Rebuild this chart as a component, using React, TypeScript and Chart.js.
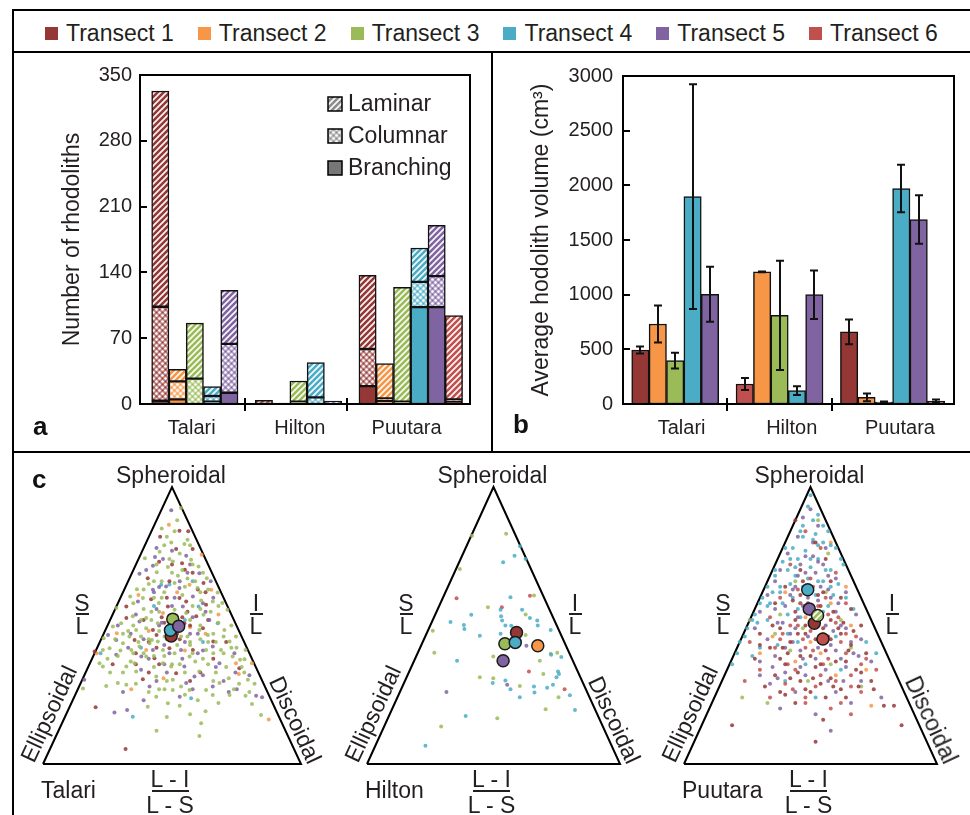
import React, { useEffect, useRef } from 'react';
import { Chart, registerables } from 'chart.js';

Chart.register(...registerables);

const FONT = "'Liberation Sans', Arial, Helvetica, sans-serif";
const INK = '#231f20';
Chart.defaults.font.family = FONT;
Chart.defaults.color = INK;

// ---------------- shared ----------------
const TRANSECTS = ['Transect 1', 'Transect 2', 'Transect 3', 'Transect 4', 'Transect 5', 'Transect 6'];
const TRANSECT_COLORS = ['#953735', '#F79646', '#9BBB59', '#4BACC6', '#8064A2', '#C0504D'];
const SITES = ['Talari', 'Hilton', 'Puutara'];

// ---------------- panel a : number of rhodoliths ----------------
const A_SLOTS = [0, 1, 2, 3, 4, 6, 7, 8, 9, 10, 12, 13, 14, 15, 16, 17];
const A_TRANSECT = [1, 2, 3, 4, 5, 6, 2, 3, 4, 5, 1, 2, 3, 4, 5, 6];
const A_BRANCHING = [3.5, 5, null, 2.5, 12, null, null, 2.5, null, null, 19, 3, 2.5, 103, 103, 2];
const A_COLUMNAR = [100, 19, 27, 6, 52, null, null, null, 7, null, 39.5, 3, null, 27, 33, 3];
const A_LAMINAR = [229.5, 13, 59, 10, 57, 4, 1, 22, 37, 3, 78.5, 37, 121.5, 36, 54, 89];
const A_GROUP_POS = [1.82, 8.08, 14.26];
const A_SEPARATORS = [4.9, 10.8];
const A_X_RANGE = [-1.175, 17.93];
const A_Y_MAX = 350;
const A_Y_STEP = 70;
const MORPHOTYPES = ['Laminar', 'Columnar', 'Branching'];

// ---------------- panel b : average volume ----------------
const B_SLOTS = [0, 1, 2, 3, 4, 6, 7, 8, 9, 10, 12, 13, 14, 15, 16, 17];
const B_TRANSECT = [1, 2, 3, 4, 5, 6, 2, 3, 4, 5, 1, 2, 3, 4, 5, 6];
const B_MEAN = [494, 732, 397, 1897, 1004, 183, 1208, 811, 122, 1000, 659, 61, 18, 1971, 1687, 27];
const B_ERR = [33, 170, 72, 1028, 252, 55, 4, 499, 40, 222, 113, 35, 5, 218, 222, 15];
const B_GROUP_POS = [2.37, 8.7, 14.92];
const B_SEPARATORS = [5, 11];
const B_X_RANGE = [-1, 18.03];
const B_Y_MAX = 3000;
const B_Y_STEP = 500;

// ---------------- panel c : ternary shape plots (x %, y % of triangle) ----------------
type Pt = [number, number];
const TRIANGLE: Pt[] = [[0, 0], [100, 0], [50, 100], [0, 0]];

const TALARI_T1: Pt[] = [[52.9,84.2],[56.3,84],[45.4,82],[51.6,77.6],[58,77.6],[53.9,72.5],[40.6,67.1],[55,70.1],[62.2,65.3],[32.3,56.9],[41.9,59.5],[52.9,59.9],[55.5,58.7],[63.2,57.5],[59.4,53.3],[66,44.2],[51.6,32.8],[43.2,38.2],[20.4,20.5],[32,5.4],[20,40.6],[35.5,44.8],[49,41.8],[58.1,41.2],[76.1,34.6],[32.3,52.7],[42.6,48.4],[48.4,56.9],[54.8,50.8],[44,46.6],[38.7,30.6],[46,53],[50,49],[56,55],[60,63],[44,42],[53,45],[39,52],[62,49],[49,66],[58,69],[45,73],[36,40],[66,38],[71,44],[27,36],[41,33],[57,30],[48,60],[64,52],[52,47],[47,51],[54,53],[41,44],[57,50],[45,36],[61,33],[36,36],[50,72],[63,62]];
const TALARI_T2: Pt[] = [[48.8,86.4],[61.5,75.5],[56.8,64.7],[65.2,62.9],[57,49.4],[75.9,32.5],[34.2,27],[87.5,16.1],[20.8,40],[40,41.2],[74.8,36.4],[28.6,47.2],[46.5,54.5],[46.7,31],[81,36.4],[52,62],[41,48],[63,47],[55,41],[37,61],[68,54]];
const TALARI_T3: Pt[] = [[53.5,92.4],[49.7,80],[54.8,79.4],[45.2,76.6],[39.5,74.3],[50.3,73.1],[57.4,73.7],[48.4,71.1],[60.3,71.3],[44.1,69.2],[52.3,68],[63.5,67.1],[51,65.3],[59.9,63.5],[67.7,61.9],[36.4,63.1],[33.8,60.5],[28.4,56.3],[38.7,59.9],[44.9,58.1],[61.3,59],[65.8,58.7],[69.5,58.1],[71.5,55.7],[70.3,48.4],[62.2,53.9],[60.6,48.4],[63.9,46.6],[74.8,46],[73.5,38.8],[76.4,37.6],[79.4,30.4],[81,21.7],[84.5,17.7],[78.5,24.6],[72.3,24.9],[68.4,29.2],[60.6,10.1],[61.3,14.7],[56.8,26.7],[53.5,28],[50.3,30.4],[60.6,33.4],[49.7,35.2],[46.5,36.4],[40,38.8],[35.5,36.4],[32.3,28.6],[29,29.2],[24.5,28.2],[40.6,20.7],[43.9,24.3],[47.1,27],[21.9,36.4],[23.2,41.2],[25.8,41.8],[31,43.6],[33.5,46],[37.4,42.4],[41.3,43.6],[44.5,44.2],[46.5,41.2],[51,40],[56.8,38.8],[63.2,41.2],[69,41.2],[78.1,37.8],[27.1,49.6],[30.3,50.8],[34.8,53.3],[40,52.7],[44.5,50.8],[51,55.7],[55.5,54.5],[53.5,46],[47.1,46],[42.2,44.8],[36.1,48.4],[34.2,41.2],[23.5,45.4],[15.5,27.3],[23.2,35.2],[32.3,35.2],[36.1,33.4],[43.9,31.6],[50.3,26.7],[48.4,21.9],[63.2,26.7],[65.8,24.9],[72.3,44.2],[78.5,41.2],[47,62],[43,60],[54,61],[58,57],[49,53],[45,55],[39,56],[35,50],[31,47],[57,52],[65,55],[68,51],[61,45],[57,43],[52,43],[47,39],[43,35],[39,40],[55,33],[59,37],[64,36],[67,33],[71,35],[75,42],[66,47],[29,39],[26,33],[38,46],[42,52],[50,69],[46,66],[56,67],[61,62],[41,65],[35,58],[62,69],[58,72],[53,76],[47,79],[44,72],[52,88],[51,84],[48,82],[56,81],[30,41],[34,37],[41,26],[53,21],[57,18],[68,22],[74,27],[78,33],[82,29],[70,40],[61,50],[64,44],[45,48],[52,50],[48,45],[56,46],[40,49],[37,44],[43,39],[50,36],[58,40],[62,38],[66,40],[70,46],[73,50],[68,57],[64,63],[59,66],[55,64],[46,60],[42,55],[38,52],[33,48],[28,45],[25,38],[31,33],[36,29],[45,27],[55,25],[60,23],[66,30],[72,31],[76,29],[80,26],[63,19],[48,17],[44,12],[57,44],[53,36],[48,30],[41,45],[35,40],[54,70],[49,74],[57,79],[46,85],[43,66],[39,63],[61,56],[67,44],[73,42],[77,35]];
const TALARI_T4: Pt[] = [[45.8,64.7],[49,64.8],[60.3,56.9],[67.7,50.8],[34.8,17.1],[22.3,40],[57.4,23.7],[55,52],[43,57],[62,44],[38,42],[58,66]];
const TALARI_T5: Pt[] = [[49.7,91.6],[43.4,74.7],[46.5,74],[55.5,75.2],[42.6,71.6],[37.4,68.7],[60.6,68.9],[45,63.9],[47.7,64.1],[52.9,63.5],[42.6,62.9],[36.8,58.7],[58.1,60.5],[64.5,52],[68.4,36.4],[74.6,33],[82.6,24.6],[84.9,24.1],[75.1,27],[65.8,28],[55.5,29.2],[58.7,31.6],[54.8,35.2],[38.1,38.8],[27.7,18.6],[32.6,19.5],[41.3,28],[28.4,44.8],[42.6,41.2],[53.5,41.2],[65.8,42.4],[37.4,51.4],[54.2,56.9],[50.3,45.4],[25.2,46.6],[16,30.4],[28.4,39.4],[53,24.3],[74.2,40],[44,56],[51,60],[57,47],[62,58],[39,45],[47,43],[54,38],[60,40],[33,42],[46,51],[66,60],[40,70],[56,69],[50,77],[38,34],[70,30],[62,32],[48,33],[44,30],[80,32],[58,53],[36,54],[29,50],[50,57],[45,50],[55,44],[60,47],[63,55],[41,38],[47,36],[58,27],[34,47],[53,66],[57,72],[44,78],[67,35],[72,26],[39,23],[31,26],[62,41],[49,40],[43,62],[65,66]];
const TALARI_MEAN_T = [1, 3, 4, 5];
const TALARI_MEAN_XY: Pt[] = [[49.7,46.2],[50.3,52.3],[49.4,48.3],[52.6,49.7]];

const HILTON_T3: Pt[] = [[41.5,82.4],[55,83.1],[36.7,70.4],[66,60.8],[47.8,56.6],[62.7,54],[26,48.1],[62.7,46.6],[26.6,40.2],[49.9,38.8],[68.3,37.3],[72.6,39.8],[75.2,40.2],[69.7,32.5],[44.6,31.3],[49.9,31],[60.4,28.2],[75.7,24.1],[70.6,19.8],[51.5,16.5],[29.3,13.5]];
const HILTON_T4: Pt[] = [[60.5,78.6],[58.3,75.2],[62.7,74],[53.8,72.8],[56.7,60.2],[52.8,55.7],[61.3,55.7],[64.4,52.7],[67.3,51.8],[67.5,50],[41.2,53.9],[33,51.3],[38.3,50.2],[38.5,48.7],[44.6,46.3],[53,53.3],[53.4,51.8],[54.7,50],[57,49.9],[52.8,47],[60.7,46.3],[72.6,48.4],[35.6,37.3],[76.8,38.6],[72.8,39.4],[75.5,33.4],[75.9,32.5],[74.9,31.3],[49.7,29.2],[54.7,30.1],[56.7,27],[66,28],[66.2,25.8],[71.2,27.5],[73.5,28.6],[80.2,24.8],[60.4,24.1],[82.2,19.5],[39,17.3],[23.1,6.6]];
const HILTON_T5: Pt[] = [[63,42.7],[55.4,28.6],[31.4,26]];
const HILTON_T6: Pt[] = [[35.4,59.8],[64.4,60.7],[53.3,56.6],[64,33.4],[78.1,27]];
const HILTON_MEAN_T = [1, 3, 4, 2, 5];
const HILTON_MEAN_XY: Pt[] = [[59.1,47.5],[54.5,43.4],[58.6,43.9],[67.5,42.7],[53.8,37.3]];

const PUUTARA_T1: Pt[] = [[44,88],[52,80],[56,74],[46,70],[58,66],[40,64],[50,62],[62,60],[36,58],[54,57],[66,56],[44,55],[58,52],[48,50],[70,50],[38,49],[30,47],[62,47],[52,45],[42,44],[66,43],[34,42],[56,41],[72,40],[46,39],[28,38],[60,37],[40,36],[52,35],[68,34],[36,32],[58,31],[46,30],[74,30],[32,28],[62,27],[50,26],[44,22],[56,24],[64,24],[19,14],[52,8],[55,16],[86,14],[79,21],[83,21],[38,26],[47,66],[55,62],[43,59],[59,55],[51,53],[63,51],[45,47],[55,49],[35,50],[67,48],[41,40],[50,39],[58,45],[64,37],[30,43],[38,38],[54,29],[48,27],[70,33],[42,31],[49,58],[53,61],[46,61],[61,49],[57,46],[48,47],[44,52],[39,42],[65,41],[54,36],[45,33],[59,28],[51,31],[40,25],[69,28],[75,27]];
const PUUTARA_T2: Pt[] = [[58,80],[40,62],[58,58],[48,53],[66,50],[35,46],[54,40],[44,37],[72,34],[60,32],[30,40],[74,21],[50,44],[64,64]];
const PUUTARA_T3: Pt[] = [[53,88],[57,76],[44,66],[56,62],[50,57],[62,52],[38,54],[47,49],[55,47],[42,41],[66,42],[58,36],[36,47],[49,30],[23,24],[33,22],[70,28],[26,52]];
const PUUTARA_T4: Pt[] = [[50,97],[49,93],[55,86],[58,79],[62,74],[63,72],[46,84],[52,83],[43,78],[48,77],[39,73],[53,74],[58,70],[44,71],[36,68],[50,71],[61,65],[42,65],[55,66],[35,62],[47,64],[64,60],[31,60],[52,61],[39,58],[28,54],[57,57],[45,56],[25,49],[67,56],[33,52],[50,52],[22,44],[41,47],[60,46],[19,36],[21,40],[30,42],[48,36],[72,44],[40,30],[62,34],[52,24],[45,44],[76,40],[27,39],[30,58],[27,52],[24,46],[36,70],[40,78],[33,64],[57,84],[60,78],[53,90],[47,86],[51,81],[55,80],[45,74],[41,70],[49,67],[38,64],[56,70],[43,60],[33,57],[29,51],[59,61],[46,53],[37,43],[55,55],[51,88],[47,82],[53,79],[42,74],[50,74],[44,68],[38,62],[53,66],[34,58],[46,58],[41,54],[58,64]];
const PUUTARA_T5: Pt[] = [[50,92],[47,89],[53,86],[45,82],[51,80],[56,78],[41,76],[48,75],[55,72],[38,70],[45,68],[52,69],[60,67],[36,66],[43,63],[57,63],[64,62],[33,61],[49,60],[40,57],[53,59],[60,55],[68,54],[30,55],[45,53],[37,51],[56,50],[64,49],[28,49],[49,46],[42,47],[70,45],[33,45],[58,43],[46,41],[62,38],[36,39],[74,37],[52,38],[30,37],[40,33],[56,34],[64,35],[48,32],[70,30],[34,29],[44,26],[60,26],[78,24],[38,20],[52,18],[30,32],[66,22],[58,12],[51,75],[46,72],[57,68],[42,61],[54,64],[47,57],[61,58],[36,56],[52,50],[44,49],[59,48],[66,44],[40,42],[53,42],[35,35],[60,41],[69,39],[46,35],[48,69],[53,73],[44,64],[58,60],[50,54],[62,50],[39,51],[55,46],[47,38],[43,44],[67,40],[57,30],[37,31],[63,30]];
const PUUTARA_T6: Pt[] = [[48,84],[54,78],[42,72],[60,69],[50,67],[38,60],[56,60],[64,58],[46,58],[52,54],[34,53],[60,51],[42,50],[68,46],[50,48],[56,44],[38,45],[26,44],[64,40],[48,42],[44,34],[54,32],[66,32],[30,34],[70,36],[40,29],[52,28],[60,30],[76,34],[48,22],[70,26],[58,20],[34,24],[66,18],[24,30],[45,63],[53,57],[61,53],[39,47],[47,45],[57,38],[64,47],[51,41],[43,27],[66,28],[36,42],[72,38],[51,64],[57,54],[45,50],[41,36],[62,44],[55,36],[48,24],[62,22]];
const PUUTARA_MEAN_T = [4, 5, 1, 3, 6];
const PUUTARA_MEAN_XY: Pt[] = [[48.9,62.9],[49.5,56],[51.5,50.8],[52.8,53.6],[54.9,45.1]];

// ---------------- helpers ----------------
function rgba(hex: string, a: number) {
  const n = parseInt(hex.slice(1), 16);
  return `rgba(${(n >> 16) & 255},${(n >> 8) & 255},${n & 255},${a})`;
}
function lighten(hex: string, w: number) {
  const n = parseInt(hex.slice(1), 16);
  const c = [(n >> 16) & 255, (n >> 8) & 255, n & 255].map((v) => Math.round(v + (255 - v) * w));
  return `rgb(${c[0]},${c[1]},${c[2]})`;
}
function hatch(color: string): any {
  const c = document.createElement('canvas');
  c.width = 6; c.height = 6;
  const g = c.getContext('2d')!;
  g.fillStyle = color; g.fillRect(0, 0, 6, 6);
  g.strokeStyle = 'rgba(255,255,255,0.95)'; g.lineWidth = 1.7;
  g.beginPath();
  g.moveTo(-1, 7); g.lineTo(7, -1);
  g.moveTo(-1, 1); g.lineTo(1, -1);
  g.moveTo(5, 7); g.lineTo(7, 5);
  g.stroke();
  return g.createPattern(c, 'repeat');
}
function dots(color: string): any {
  const c = document.createElement('canvas');
  c.width = 6; c.height = 6;
  const g = c.getContext('2d')!;
  g.fillStyle = lighten(color, 0.35); g.fillRect(0, 0, 6, 6);
  g.fillStyle = '#ffffff';
  [[1.5, 1.5], [4.5, 4.5]].forEach(([x, y]) => { g.beginPath(); g.arc(x, y, 1.3, 0, Math.PI * 2); g.fill(); });
  g.fillStyle = color;
  [[4.5, 1.5], [1.5, 4.5]].forEach(([x, y]) => { g.beginPath(); g.arc(x, y, 0.8, 0, Math.PI * 2); g.fill(); });
  return g.createPattern(c, 'repeat');
}
const tColor = (t: number) => TRANSECT_COLORS[t - 1];

// frame, inward y ticks, group separators
const framePlugin = {
  id: 'frame',
  afterDraw(chart: any, _a: any, opts: any) {
    const { ctx, chartArea: a, scales } = chart;
    ctx.save();
    ctx.strokeStyle = '#000';
    ctx.lineWidth = 2;
    ctx.strokeRect(a.left, a.top, a.right - a.left, a.bottom - a.top);
    scales.y.ticks.forEach((t: any) => {
      const py = Math.round(scales.y.getPixelForValue(t.value));
      ctx.beginPath(); ctx.moveTo(a.left, py); ctx.lineTo(a.left + 7, py); ctx.stroke();
    });
    (opts.separators || []).forEach((v: number) => {
      const px = Math.round(scales.x.getPixelForValue(v));
      ctx.beginPath(); ctx.moveTo(px, a.bottom - 6); ctx.lineTo(px, a.bottom + 7); ctx.stroke();
    });
    ctx.restore();
  },
};

const shapeLegendPlugin = {
  id: 'shapeLegend',
  afterDraw(chart: any, _a: any, opts: any) {
    if (!opts || !opts.items) return;
    const { ctx, chartArea: a } = chart;
    ctx.save();
    opts.items.forEach((it: any, i: number) => {
      const y = a.top + 29 + i * 32;
      const x = a.right - 142;
      ctx.fillStyle = it.fill; ctx.fillRect(x, y - 7, 14, 14);
      ctx.strokeStyle = '#000'; ctx.lineWidth = 1.5; ctx.strokeRect(x, y - 7, 14, 14);
      ctx.fillStyle = INK; ctx.font = `23px ${FONT}`; ctx.textBaseline = 'middle'; ctx.textAlign = 'left';
      ctx.fillText(it.label, x + 20, y + 1);
    });
    ctx.restore();
  },
};

const errorBarPlugin = {
  id: 'errorBars',
  afterDatasetsDraw(chart: any, _a: any, opts: any) {
    if (!opts || !opts.errors) return;
    const { ctx, scales } = chart;
    const meta = chart.getDatasetMeta(0);
    ctx.save();
    ctx.strokeStyle = '#111'; ctx.lineWidth = 2;
    meta.data.forEach((bar: any, i: number) => {
      const m = opts.means[i], e = opts.errors[i];
      const top = scales.y.getPixelForValue(m + e);
      const bot = scales.y.getPixelForValue(Math.max(0, m - e));
      const x = Math.round(bar.x);
      ctx.beginPath();
      ctx.moveTo(x, top); ctx.lineTo(x, bot);
      ctx.moveTo(x - 4, top); ctx.lineTo(x + 4, top);
      ctx.moveTo(x - 4, bot); ctx.lineTo(x + 4, bot);
      ctx.stroke();
    });
    ctx.restore();
  },
};

function slotWidth(ctx: any) {
  const s = ctx.chart.scales.x;
  return Math.abs(s.getPixelForValue(1) - s.getPixelForValue(0));
}

function barScales(xRange: number[], groupPos: number[], yMax: number, yStep: number, yTitle: string, yWidth: number, labelPad: number, stacked: boolean) {
  return {
    x: {
      type: 'linear', min: xRange[0], max: xRange[1], stacked, offset: false, bounds: 'data', grace: 0,
      grid: { display: false, drawTicks: false, offset: false }, border: { display: false },
      afterBuildTicks: (s: any) => { s.ticks = groupPos.map((v) => ({ value: v })); },
      afterFit: (s: any) => { s.height = 47; },
      ticks: { callback: (_v: any, i: number) => SITES[i], font: { size: 20 }, color: INK, padding: 12, maxRotation: 0, minRotation: 0, autoSkip: false },
    },
    y: {
      type: 'linear', min: 0, max: yMax, stacked,
      grid: { display: false, drawTicks: false }, border: { display: false },
      afterFit: (s: any) => { s.width = yWidth; },
      ticks: { stepSize: yStep, font: { size: 20 }, color: INK, padding: labelPad, callback: (v: any) => String(v) },
      title: { display: true, text: yTitle, font: { size: 23 }, color: INK, padding: 0 },
    },
  };
}

function buildPanelA() {
  const pts = (vals: (number | null)[]) => A_SLOTS.map((x, i) => ({ x, y: vals[i] }));
  const base = { borderColor: '#111', borderWidth: 1.5, borderSkipped: false, barPercentage: 1, categoryPercentage: 1, barThickness: slotWidth };
  return {
    type: 'bar',
    data: {
      datasets: [
        { ...base, label: 'Branching', data: pts(A_BRANCHING), backgroundColor: A_TRANSECT.map((t) => tColor(t)) },
        { ...base, label: 'Columnar', data: pts(A_COLUMNAR), backgroundColor: A_TRANSECT.map((t) => dots(tColor(t))) },
        { ...base, label: 'Laminar', data: pts(A_LAMINAR), backgroundColor: A_TRANSECT.map((t) => hatch(tColor(t))) },
      ],
    },
    options: {
      responsive: false, maintainAspectRatio: false, animation: false, events: [],
      layout: { padding: { left: 45, top: 22, right: 21, bottom: 0 } },
      scales: barScales(A_X_RANGE, A_GROUP_POS, A_Y_MAX, A_Y_STEP, 'Number of rhodoliths', 81, 8, true),
      plugins: {
        legend: { display: false }, tooltip: { enabled: false },
        frame: { separators: A_SEPARATORS },
        shapeLegend: {
          items: [
            { label: MORPHOTYPES[0], fill: hatch('#8c8c8c') },
            { label: MORPHOTYPES[1], fill: dots('#8c8c8c') },
            { label: MORPHOTYPES[2], fill: '#777777' },
          ],
        },
      },
    },
    plugins: [framePlugin, shapeLegendPlugin],
  };
}

function buildPanelB() {
  return {
    type: 'bar',
    data: {
      datasets: [{
        label: 'Average volume',
        data: B_SLOTS.map((x, i) => ({ x, y: B_MEAN[i] })),
        backgroundColor: B_TRANSECT.map((t) => tColor(t)),
        borderColor: '#111', borderWidth: 1.5, borderSkipped: false, barPercentage: 1, categoryPercentage: 1, barThickness: slotWidth,
      }],
    },
    options: {
      responsive: false, maintainAspectRatio: false, animation: false, events: [],
      layout: { padding: { left: 35, top: 23, right: 16, bottom: 0 } },
      scales: barScales(B_X_RANGE, B_GROUP_POS, B_Y_MAX, B_Y_STEP, 'Average hodolith volume (cm³)', 95, 10, false),
      plugins: {
        legend: { display: false }, tooltip: { enabled: false },
        frame: { separators: B_SEPARATORS },
        errorBars: { means: B_MEAN, errors: B_ERR },
      },
    },
    plugins: [framePlugin, errorBarPlugin],
  };
}

function buildTernary(dotSets: { t: number; pts: Pt[] }[], meanT: number[], meanXY: Pt[], hatchedMean: number) {
  const datasets: any[] = [];
  datasets.push({
    label: 'frame', data: TRIANGLE.map(([x, y]) => ({ x, y })), showLine: true, borderColor: '#000',
    borderWidth: 2, pointRadius: 0, fill: false, order: 30, clip: false,
  });
  dotSets.forEach((s) => {
    datasets.push({
      label: TRANSECTS[s.t - 1], data: s.pts.map(([x, y]) => ({ x, y })), showLine: false,
      pointRadius: 2, pointBorderWidth: 0, pointBackgroundColor: rgba(tColor(s.t), 0.85), order: 20, clip: false,
    });
  });
  meanT.forEach((t, i) => {
    datasets.push({
      label: 'mean ' + TRANSECTS[t - 1], data: [{ x: meanXY[i][0], y: meanXY[i][1] }], showLine: false,
      pointRadius: 6, pointBorderWidth: 1.5, pointBorderColor: '#1a1a1a',
      pointBackgroundColor: t === hatchedMean ? hatch(tColor(t)) : tColor(t), order: 10 - i, clip: false,
    });
  });
  return {
    type: 'scatter',
    data: { datasets },
    options: {
      responsive: false, maintainAspectRatio: false, animation: false, events: [],
      layout: { padding: 12 },
      scales: {
        x: { type: 'linear', min: 0, max: 100, display: false },
        y: { type: 'linear', min: 0, max: 100, display: false },
      },
      plugins: { legend: { display: false }, tooltip: { enabled: false } },
    },
  };
}

// ---------------- components ----------------
function ChartCanvas({ left, top, width, height, build }: any) {
  const ref = useRef<HTMLCanvasElement>(null);
  useEffect(() => {
    const chart = new Chart(ref.current as any, build());
    return () => chart.destroy();
  }, []);
  return <canvas ref={ref} width={width} height={height} style={{ position: 'absolute', left, top, width, height }} />;
}

function Txt({ x, y, children, size = 23, rot = 0, bold = false, anchor = 'center' }: any) {
  const tx = anchor === 'left' ? '0' : '-50%';
  return (
    <div style={{
      position: 'absolute', left: x, top: y, transform: `translate(${tx},-50%) rotate(${rot}deg)`,
      fontSize: size, lineHeight: 1, fontFamily: FONT, color: INK, whiteSpace: 'nowrap', fontWeight: bold ? 700 : 400,
    }}>{children}</div>
  );
}

function Frac({ x, yTop, yBar, yBot, top, bottom, barW }: any) {
  return (
    <>
      <Txt x={x} y={yTop}>{top}</Txt>
      <div style={{ position: 'absolute', left: x - barW / 2, top: yBar - 1, width: barW, height: 2, background: INK }} />
      <Txt x={x} y={yBot}>{bottom}</Txt>
    </>
  );
}

function Line({ l, t, w, h }: any) {
  return <div style={{ position: 'absolute', left: l, top: t, width: w, height: h, background: '#000' }} />;
}

function TernaryLabels({ bl, br, name }: any) {
  const mid = (bl + br) / 2;
  return (
    <>
      <Txt x={mid - 1} y={475}>Spheroidal</Txt>
      <Frac x={bl + 39} yTop={603} yBar={614} yBot={626} top="S" bottom="L" barW={13} />
      <Frac x={br - 45} yTop={603} yBar={614} yBot={626} top="I" bottom="L" barW={13} />
      <Txt x={bl + 6} y={714} rot={-65}>Ellipsoidal</Txt>
      <Txt x={br - 6} y={720} rot={65}>Discoidal</Txt>
      <Txt x={bl - 2} y={790} anchor="left">{name}</Txt>
      <Frac x={mid - 2} yTop={779} yBar={791} yBot={805} top="L - I" bottom="L - S" barW={37} />
    </>
  );
}

export default function App() {
  const ternaries = [
    { bl: 43, br: 301, name: SITES[0], build: () => buildTernary(
      [{ t: 3, pts: TALARI_T3 }, { t: 5, pts: TALARI_T5 }, { t: 1, pts: TALARI_T1 }, { t: 2, pts: TALARI_T2 }, { t: 4, pts: TALARI_T4 }],
      TALARI_MEAN_T, TALARI_MEAN_XY, -1) },
    { bl: 367, br: 620, name: SITES[1], build: () => buildTernary(
      [{ t: 4, pts: HILTON_T4 }, { t: 3, pts: HILTON_T3 }, { t: 6, pts: HILTON_T6 }, { t: 5, pts: HILTON_T5 }],
      HILTON_MEAN_T, HILTON_MEAN_XY, -1) },
    { bl: 684, br: 937, name: SITES[2], build: () => buildTernary(
      [{ t: 1, pts: PUUTARA_T1 }, { t: 5, pts: PUUTARA_T5 }, { t: 6, pts: PUUTARA_T6 }, { t: 4, pts: PUUTARA_T4 }, { t: 3, pts: PUUTARA_T3 }, { t: 2, pts: PUUTARA_T2 }],
      PUUTARA_MEAN_T, PUUTARA_MEAN_XY, 3) },
  ];
  return (
    <div style={{ position: 'absolute', left: 0, top: 0, width: 970, height: 815, background: '#fff', overflow: 'hidden', fontFamily: FONT }}>
      <Line l={12} t={9} w={958} h={2} />
      <Line l={12} t={9} w={2} h={806} />
      <Line l={12} t={51} w={958} h={2} />
      <Line l={491} t={51} w={2} h={402} />
      <Line l={12} t={451} w={958} h={2} />

      <div style={{ position: 'absolute', left: 45, top: 21, height: 24, display: 'flex', alignItems: 'center', gap: 24 }}>
        {TRANSECTS.map((name, i) => (
          <div key={name} style={{ display: 'flex', alignItems: 'center', whiteSpace: 'nowrap' }}>
            <span style={{ display: 'inline-block', width: 13, height: 13, background: TRANSECT_COLORS[i], marginRight: 8 }} />
            <span style={{ fontSize: 23, lineHeight: '24px', color: INK }}>{name}</span>
          </div>
        ))}
      </div>

      <ChartCanvas left={14} top={53} width={477} height={398} build={buildPanelA} />
      <ChartCanvas left={493} top={53} width={477} height={398} build={buildPanelB} />

      {ternaries.map((tr) => (
        <ChartCanvas key={tr.name} left={tr.bl - 12} top={475} width={tr.br - tr.bl + 24} height={301} build={tr.build} />
      ))}
      {ternaries.map((tr) => (
        <TernaryLabels key={'l' + tr.name} bl={tr.bl} br={tr.br} name={tr.name} />
      ))}

      <div style={{ position: 'absolute', left: 33, top: 413, fontSize: 26, lineHeight: 1, fontWeight: 700, color: '#111' }}>a</div>
      <div style={{ position: 'absolute', left: 513, top: 411, fontSize: 26, lineHeight: 1, fontWeight: 700, color: '#111' }}>b</div>
      <div style={{ position: 'absolute', left: 32, top: 466, fontSize: 26, lineHeight: 1, fontWeight: 700, color: '#111' }}>c</div>
    </div>
  );
}
